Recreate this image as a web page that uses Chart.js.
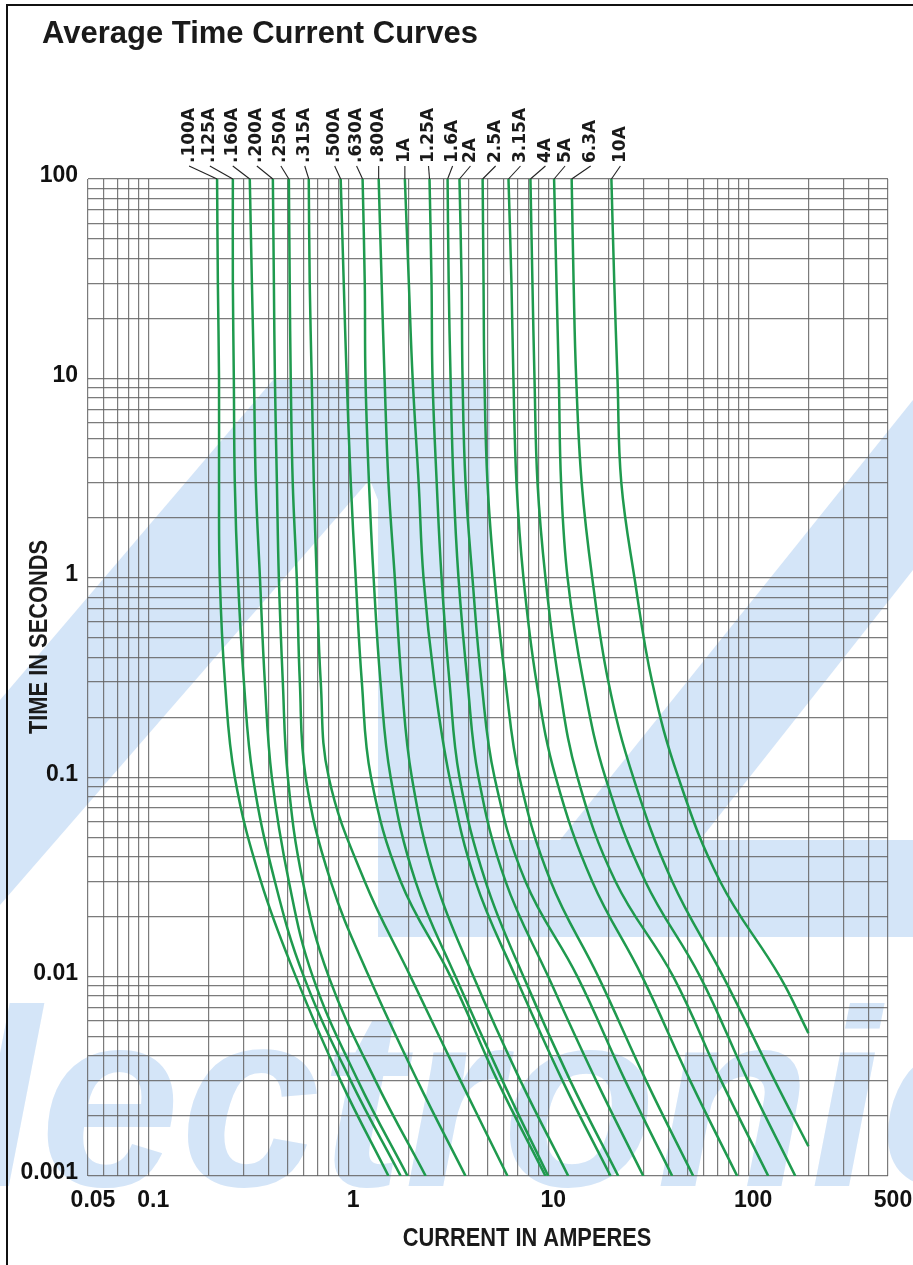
<!DOCTYPE html>
<html><head><meta charset="utf-8">
<script src="https://cdn.jsdelivr.net/npm/chart.js@4.4.1/dist/chart.umd.min.js"></script>
<style>html,body{margin:0;padding:0;background:#fff;overflow:hidden}canvas{display:block}</style>
</head><body>
<canvas id="c" width="913" height="1265" style="width:913px;height:1265px"></canvas>
<script>
// ---------------- DATA ----------------
const ratingLabels = ['.100A','.125A','.160A','.200A','.250A','.315A','.500A','.630A','.800A','1A','1.25A','1.6A','2A','2.5A','3.15A','4A','5A','6.3A','10A'];

// time levels (seconds) at which currents were read
const timeLevels    = [100,30,10,3,1,0.3,0.1,0.03,0.01,0.003,0.001];
const timeLevels6A3 = [100,30,10,3,1,0.3,0.1,0.03,0.01,0.003,0.00141];
const timeLevels10A = [100,30,10,3,1,0.3,0.1,0.03,0.01,0.00521];

// currents (A) for each fuse rating at those time levels
const amps_100mA = [0.221,0.223,0.226,0.226,0.228,0.242,0.271,0.366,0.547,0.917,1.59];
const amps_125mA = [0.265,0.265,0.268,0.271,0.281,0.301,0.334,0.430,0.600,1.03,1.83];
const amps_160mA = [0.322,0.330,0.338,0.345,0.362,0.383,0.415,0.505,0.665,1.12,1.98];
const amps_200mA = [0.420,0.425,0.430,0.440,0.450,0.471,0.499,0.593,0.799,1.37,2.44];
const amps_250mA = [0.505,0.510,0.516,0.528,0.553,0.573,0.613,0.818,1.27,2.22,3.86];
const amps_315mA = [0.635,0.642,0.657,0.673,0.696,0.729,0.799,1.21,2.05,3.65,6.26];
const amps_500mA = [0.917,0.950,0.983,1.03,1.09,1.17,1.30,1.83,3.25,5.58,9.69];
const amps_630mA = [1.18,1.21,1.22,1.27,1.34,1.45,1.63,2.17,3.44,5.91,10.0];
const amps_800mA = [1.42,1.47,1.52,1.59,1.71,1.85,2.08,2.74,4.23,7.27,12.6];
const amps_1A    = [1.92,2.01,2.10,2.25,2.38,2.70,3.21,4.33,6.86,11.8,20.5];
const amps_1A25  = [2.55,2.61,2.64,2.77,2.93,3.21,3.60,4.86,7.52,12.9,22.4];
const amps_1A6   = [3.14,3.18,3.25,3.36,3.56,3.95,4.48,6.12,10.0,17.4,29.9];
const amps_2A    = [3.60,3.69,3.73,3.86,4.18,4.64,5.39,7.70,14.0,24.3,41.7];
const amps_2A5   = [4.70,4.75,4.80,4.97,5.39,6.12,7.18,10.3,17.8,30.9,53.1];
const amps_3A15  = [6.33,6.55,6.70,6.94,7.52,8.74,10.9,16.6,29.5,51.3,88.1];
const amps_4A    = [8.15,8.34,8.54,8.84,9.69,11.3,14.0,21.7,42.2,73.3,126];
const amps_5A    = [10.7,11.0,11.3,11.6,12.5,15.0,19.3,30.6,57.5,99.9,172];
const amps_6A3   = [13.1,13.4,13.8,14.7,16.6,20.0,26.6,41.7,75.0,136,200];
const amps_10A   = [20.7,21.4,22.2,23.2,27.0,33.1,44.7,72.4,144,200];

// axis tick labels
const xTickLabels = [0.05,0.1,1,10,100,500];
const yTickLabels = [0.001,0.01,0.1,1,10,100];

// ---------------- BUILD ----------------
const seriesAmps = [amps_100mA,amps_125mA,amps_160mA,amps_200mA,amps_250mA,amps_315mA,amps_500mA,amps_630mA,amps_800mA,
  amps_1A,amps_1A25,amps_1A6,amps_2A,amps_2A5,amps_3A15,amps_4A,amps_5A,amps_6A3,amps_10A];
const seriesTimes = seriesAmps.map((a,i)=> i===17 ? timeLevels6A3 : (i===18 ? timeLevels10A : timeLevels));

function logGrid(minV, maxV){
  const out=[];
  for(let d=-4; d<=3; d++) for(let k=1;k<=9;k++){
    const v = +(k*Math.pow(10,d)).toPrecision(3);
    if(v>=minV*0.9999 && v<=maxV*1.0001) out.push(v);
  }
  return out;
}
const xGrid = logGrid(0.05,500);
const yGrid = logGrid(0.001,100);
const isLabel = (v, list) => list.some(l => Math.abs(v-l)/l < 1e-6);

// layout / style (not data)
const labelNudge = [-28,-23,-17,-16,-8,-4,-6,-6,0,0,-1,5,11,13,12,15,11,19,9];
const gridColor = 'rgba(100,100,100,0.85)';
const curveColor = '#1f9a4e';
const wmColor = '#d4e5f8';
const sans = '"Liberation Sans",Arial,sans-serif';

function condensedText(ctx, text, x, y, sx){
  ctx.save(); ctx.translate(x,y); ctx.scale(sx,1); ctx.fillText(text,0,0); ctx.restore();
}

const decor = {
  id:'decor',
  beforeDraw(chart){
    const ctx = chart.ctx;
    ctx.save();
    ctx.fillStyle='#fff'; ctx.fillRect(0,0,chart.width,chart.height);
    // light watermark
    ctx.fillStyle = wmColor;
    ctx.beginPath(); ctx.moveTo(0,700); ctx.lineTo(273,380); ctx.lineTo(378,380); ctx.lineTo(378,470); ctx.lineTo(0,905); ctx.closePath(); ctx.fill();
    ctx.beginPath(); ctx.moveTo(330,380); ctx.lineTo(490,380); ctx.lineTo(490,937); ctx.lineTo(378,937); ctx.lineTo(378,500); ctx.closePath(); ctx.fill();
    ctx.fillRect(378,840,535,97);
    ctx.beginPath(); ctx.moveTo(560,840); ctx.lineTo(913,400); ctx.lineTo(913,570); ctx.lineTo(700,840); ctx.closePath(); ctx.fill();
    ctx.font = 'italic bold 252px "Liberation Sans",Arial,sans-serif';
    ctx.textBaseline='alphabetic'; ctx.textAlign='left';
    ctx.fillText('lectronic', -30, 1186);
    // frame
    ctx.strokeStyle='#111'; ctx.lineWidth=2;
    ctx.beginPath(); ctx.moveTo(7,1265); ctx.lineTo(7,5); ctx.lineTo(913,5); ctx.stroke();
    ctx.restore();
  },
  afterDraw(chart){
    const ctx = chart.ctx, xs = chart.scales.x;
    const top = chart.chartArea.top;
    ctx.save();
    ctx.fillStyle='#1a1a1a';
    ctx.font = 'bold 31px '+sans; ctx.textAlign='left'; ctx.textBaseline='alphabetic';
    ctx.fillText('Average Time Current Curves', 42, 43);
    ctx.font = 'bold 26px '+sans; ctx.textAlign='center';
    condensedText(ctx,'CURRENT IN AMPERES', 527, 1246, 0.84);
    ctx.save(); ctx.translate(40,637); ctx.rotate(-Math.PI/2); ctx.textBaseline='middle';
    condensedText(ctx,'TIME IN SECONDS', 0, 0, 0.84); ctx.restore();
    // rating labels + leaders
    ctx.font = 'bold 17px "DejaVu Sans",sans-serif';
    ctx.strokeStyle='#222'; ctx.lineWidth=1.1;
    chart.data.datasets.forEach((ds,i)=>{
      const x0 = xs.getPixelForValue(ds.data[0].x);
      const lx = x0 + labelNudge[i];
      ctx.beginPath(); ctx.moveTo(lx,166); ctx.lineTo(x0, top); ctx.stroke();
      ctx.save(); ctx.translate(lx,163); ctx.rotate(-Math.PI/2);
      ctx.textAlign='left'; ctx.textBaseline='middle';
      ctx.fillText(ds.label,0,0); ctx.restore();
    });
    ctx.restore();
  }
};

new Chart(document.getElementById('c'), {
  type:'line',
  data:{ datasets: seriesAmps.map((arr,i)=>({
    label: ratingLabels[i],
    data: arr.map((a,k)=>({x:a, y:seriesTimes[i][k]})),
    borderColor: curveColor, borderWidth: 2.5, pointRadius:0, tension:0.4, fill:false
  }))},
  options:{
    responsive:false, animation:false, devicePixelRatio:1,
    layout:{ padding:{ top:179, right:25, bottom:0, left:0 } },
    plugins:{ legend:{display:false}, tooltip:{enabled:false}, title:{display:false} },
    scales:{
      x:{ type:'logarithmic', min:0.05, max:500,
        afterBuildTicks: s => { s.ticks = xGrid.map(v=>({value:v})); },
        afterFit: s => { s.height = 89; s.paddingLeft=0; s.paddingRight=0; },
        grid:{ color:gridColor, lineWidth:1.2, drawTicks:false },
        border:{ display:false },
        ticks:{ autoSkip:false, maxRotation:0, minRotation:0, padding:11, labelOffset:5, color:'#111',
          font:{ family:sans, size:23, weight:'bold' },
          callback: v => isLabel(v,xTickLabels) ? String(v) : '' }
      },
      y:{ type:'logarithmic', min:0.001, max:100,
        afterBuildTicks: s => { s.ticks = yGrid.map(v=>({value:v})); },
        afterFit: s => { s.width = 88; s.paddingTop=0; s.paddingBottom=0; },
        grid:{ color:gridColor, lineWidth:1.2, drawTicks:false },
        border:{ display:false },
        ticks:{ autoSkip:false, padding:10, labelOffset:-3, color:'#111',
          font:{ family:sans, size:23, weight:'bold' },
          callback: v => isLabel(v,yTickLabels) ? String(v) : '' }
      }
    }
  },
  plugins:[decor]
});
</script>
</body></html>
